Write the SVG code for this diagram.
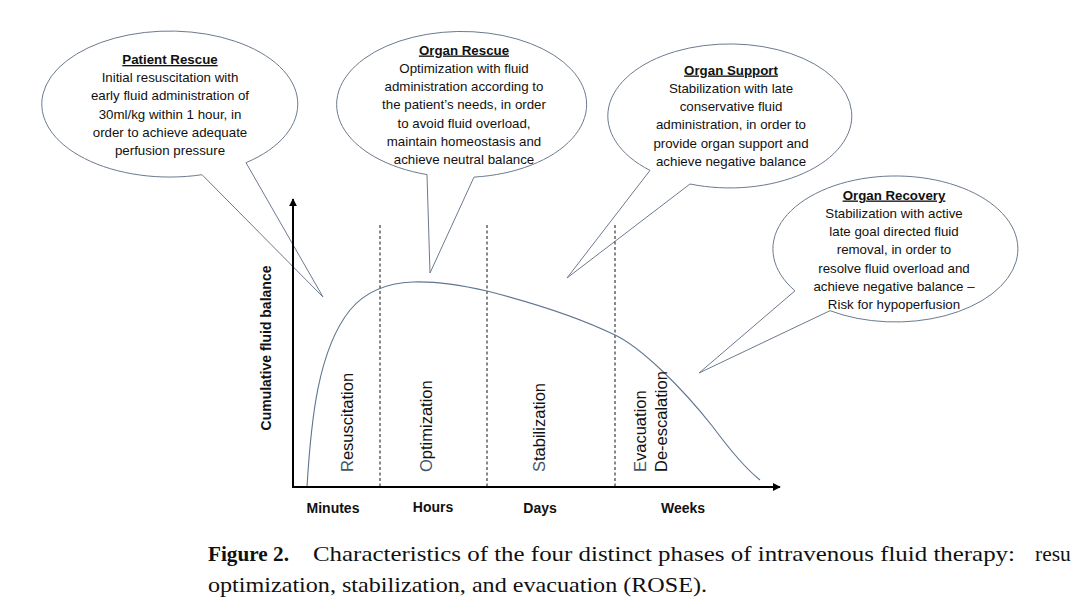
<svg xmlns="http://www.w3.org/2000/svg" width="1079" height="615" viewBox="0 0 1079 615">
<defs>
<style>
.bub{fill:none;stroke:#6c7a8e;stroke-width:1}
.bt{font-family:"Liberation Sans",Arial,sans-serif;font-size:13.3px;fill:#111;text-anchor:middle}
.ttl{font-weight:bold;text-decoration:underline}
.ax{stroke:#000;stroke-width:2;fill:none}
.dash{stroke:#111;stroke-width:1;stroke-dasharray:3,2.5}
.ph{font-family:"Liberation Sans",Arial,sans-serif;font-size:16.5px;fill:#111}
.hl{fill:#44546a}
.lab{font-family:"Liberation Sans",Arial,sans-serif;font-size:14px;font-weight:bold;fill:#111;text-anchor:middle}
.cap{font-family:"Liberation Serif","Times New Roman",serif;font-size:21.5px;fill:#111}
</style>
<marker id="ah" viewBox="0 0 10 10" refX="9" refY="5" markerWidth="4" markerHeight="4" orient="auto" markerUnits="strokeWidth">
<path d="M0,0 L10,5 L0,10 Z" fill="#000"/>
</marker>
</defs>
<rect width="1079" height="615" fill="#fff"/>

<g id="patient-rescue">
<path class="bub" d="M202,174.7 L323,297 L246,162.7 A128 73 0 1 0 202,174.7 Z"/>
<text class="bt" x="170" y="64"><tspan class="ttl">Patient Rescue</tspan><tspan x="170" dy="18.2">Initial resuscitation with</tspan><tspan x="170" dy="18.2">early fluid administration of</tspan><tspan x="170" dy="18.2">30ml/kg within 1 hour, in</tspan><tspan x="170" dy="18.2">order to achieve adequate</tspan><tspan x="170" dy="18.2">perfusion pressure</tspan></text>
</g>

<g id="organ-rescue">
<path class="bub" d="M427,174.6 L430,273 L474,177.1 A125 73 0 1 0 427,174.6 Z"/>
<text class="bt" x="464" y="54.5"><tspan class="ttl">Organ Rescue</tspan><tspan x="464" dy="18.3">Optimization with fluid</tspan><tspan x="464" dy="18.3">administration according to</tspan><tspan x="464" dy="18.3">the patient’s needs, in order</tspan><tspan x="464" dy="18.3">to avoid fluid overload,</tspan><tspan x="464" dy="18.3">maintain homeostasis and</tspan><tspan x="464" dy="18.3">achieve neutral balance</tspan></text>
</g>

<g id="organ-support">
<path class="bub" d="M650,170.4 L567,278 L690,184 A122 72 0 1 0 650,170.4 Z"/>
<text class="bt" x="731" y="74.5"><tspan class="ttl">Organ Support</tspan><tspan x="731" dy="18.3">Stabilization with late</tspan><tspan x="731" dy="18.3">conservative fluid</tspan><tspan x="731" dy="18.3">administration, in order to</tspan><tspan x="731" dy="18.3">provide organ support and</tspan><tspan x="731" dy="18.3">achieve negative balance</tspan></text>
</g>

<g id="organ-recovery">
<path class="bub" d="M795,290.8 L699,373 L830,310.7 A122.5 73 0 1 0 795,290.8 Z"/>
<text class="bt" x="894" y="199.5"><tspan class="ttl">Organ Recovery</tspan><tspan x="894" dy="18.3">Stabilization with active</tspan><tspan x="894" dy="18.3">late goal directed fluid</tspan><tspan x="894" dy="18.3">removal, in order to</tspan><tspan x="894" dy="18.3">resolve fluid overload and</tspan><tspan x="894" dy="18.3">achieve negative balance –</tspan><tspan x="894" dy="18.3">Risk for hypoperfusion</tspan></text>
</g>

<g id="chart">
<line class="dash" x1="380" y1="225" x2="380" y2="487"/>
<line class="dash" x1="487" y1="225" x2="487" y2="487"/>
<line class="dash" x1="615" y1="225" x2="615" y2="487"/>
<path d="M307,487 C311,420 318,350 350,310 C365,292 385,283 413,282 C440,281 465,286 487,291 C530,302 580,318 615,335 C640,347 680,385 713,427 C730,450 745,468 760,480" fill="none" stroke="#5f7590" stroke-width="1.1"/>
<line class="ax" x1="293" y1="487" x2="293" y2="199" marker-end="url(#ah)"/>
<line class="ax" x1="292" y1="487" x2="780" y2="487" marker-end="url(#ah)"/>
<text class="lab" transform="translate(271,348) rotate(-90)">Cumulative fluid balance</text>
<text class="ph" transform="translate(353,472) rotate(-90)"><tspan class="hl">R</tspan>esuscitation</text>
<text class="ph" transform="translate(432,472) rotate(-90)"><tspan class="hl">O</tspan>ptimization</text>
<text class="ph" transform="translate(545,472) rotate(-90)"><tspan class="hl">S</tspan>tabilization</text>
<text class="ph" transform="translate(646,472) rotate(-90)"><tspan class="hl">E</tspan>vacuation</text>
<text class="ph" transform="translate(667,472) rotate(-90)">De-escalation</text>
<text class="lab" x="333" y="513">Minutes</text>
<text class="lab" x="433" y="512">Hours</text>
<text class="lab" x="540" y="513">Days</text>
<text class="lab" x="683" y="513">Weeks</text>
</g>

<g id="caption">
<text class="cap" x="208" y="561" font-weight="bold" textLength="81" lengthAdjust="spacingAndGlyphs">Figure 2.</text>
<text class="cap" x="313" y="561" textLength="702" lengthAdjust="spacingAndGlyphs">Characteristics of the four distinct phases of intravenous fluid therapy:</text>
<text class="cap" x="1035" y="561">resu</text>
<text class="cap" x="208" y="592" textLength="499" lengthAdjust="spacingAndGlyphs">optimization, stabilization, and evacuation (ROSE).</text>
</g>
</svg>
